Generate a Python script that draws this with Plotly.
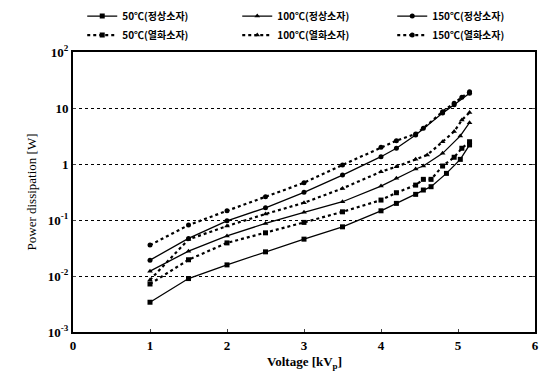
import plotly.graph_objects as go

# ---- data ----
v_n50 = [1, 1.5, 2, 2.5, 3, 3.5, 4, 4.2, 4.45, 4.55, 4.65, 4.85, 5.03, 5.15]
p_n50 = [0.0034, 0.009, 0.0158, 0.027, 0.0455, 0.0755, 0.146, 0.198, 0.287, 0.343, 0.393, 0.68, 1.21, 2.19]

v_n100 = [1, 1.5, 2, 2.5, 3, 3.5, 4, 4.2, 4.45, 4.55, 4.8, 5.03, 5.15]
p_n100 = [0.0122, 0.0278, 0.052, 0.087, 0.137, 0.212, 0.404, 0.555, 0.815, 0.92, 1.55, 3.17, 5.48]

v_n150 = [1, 1.5, 2, 2.5, 3, 3.5, 4, 4.2, 4.45, 4.8, 4.95, 5.15]
p_n150 = [0.0192, 0.0469, 0.0968, 0.165, 0.312, 0.635, 1.35, 1.91, 3.3, 8.1, 11.4, 18.4]

v_d50 = [1, 1.5, 2, 2.5, 3, 3.5, 4, 4.2, 4.45, 4.55, 4.65, 4.8, 4.95, 5.05, 5.15]
p_d50 = [0.0072, 0.0195, 0.039, 0.059, 0.0906, 0.14, 0.227, 0.307, 0.42, 0.532, 0.532, 0.92, 1.32, 1.91, 2.5]

v_d100 = [1, 1.5, 2, 2.5, 3, 3.5, 4, 4.2, 4.45, 4.6, 4.8, 4.95, 5.05, 5.15]
p_d100 = [0.0085, 0.045, 0.078, 0.128, 0.203, 0.367, 0.728, 0.895, 1.21, 1.45, 2.5, 3.8, 6.1, 8.3]

v_d150 = [1, 1.5, 2, 2.5, 3, 3.5, 4, 4.2, 4.45, 4.55, 4.8, 4.95, 5.05, 5.15]
p_d150 = [0.0356, 0.081, 0.146, 0.26, 0.462, 0.96, 1.99, 2.61, 3.44, 4.35, 8.6, 12.2, 15.6, 19.6]

names = ["50℃(정상소자)", "100℃(정상소자)", "150℃(정상소자)",
         "50℃(열화소자)", "100℃(열화소자)", "150℃(열화소자)"]

x_ticks = [0, 1, 2, 3, 4, 5, 6]
y_tickvals = [1e-3, 1e-2, 1e-1, 1, 10, 100]
y_ticktext = ["10<sup>-3</sup>", "10<sup>-2</sup>", "10<sup>-1</sup>", "1", "10", "10<sup>2</sup>"]
x_title = "Voltage [kV<sub>p</sub>]"
y_title = "Power dissipation [W]"

series = [
    (v_n50, p_n50, "square", "solid"),
    (v_n100, p_n100, "triangle-up", "solid"),
    (v_n150, p_n150, "circle", "solid"),
    (v_d50, p_d50, "square", "dot"),
    (v_d100, p_d100, "triangle-up", "dot"),
    (v_d150, p_d150, "circle", "dot"),
]

fig = go.Figure()
for (vx, py, sym, dash), nm in zip(series, names):
    fig.add_trace(go.Scatter(
        x=vx, y=py, name=nm, mode="lines+markers",
        line=dict(color="black", width=1.3 if dash == "solid" else 2.2, dash=dash),
        marker=dict(symbol=sym, size=5, color="black"),
    ))

serif = "Liberation Serif"
fig.update_layout(
    width=542, height=373,
    margin=dict(l=73, r=7, t=52, b=41, autoexpand=False),
    paper_bgcolor="white", plot_bgcolor="white",
    font=dict(family=serif, color="black", size=12),
    showlegend=True,
    legend=dict(
        orientation="h", x=0.02, y=1.18, xanchor="left", yanchor="top",
        entrywidth=110, entrywidthmode="pixels",
        font=dict(family="Noto Sans CJK KR", size=10, color="black", weight="bold"),
        itemwidth=30, tracegroupgap=0, bgcolor="rgba(0,0,0,0)",
    ),
    xaxis=dict(
        range=[0, 6], tickvals=x_ticks, ticks="inside", ticklen=3,
        showgrid=False, zeroline=False,
        showline=True, linecolor="black", linewidth=2, mirror=True,
        tickfont=dict(family=serif, size=13, weight="bold"),
    ),
    yaxis=dict(
        type="log", range=[-3, 2], tickvals=y_tickvals, ticktext=y_ticktext,
        ticks="inside", ticklen=3, mirror="ticks",
        showgrid=True, gridcolor="black", griddash="dot", gridwidth=1.2,
        zeroline=False, showline=True, linecolor="black", linewidth=2,
        tickfont=dict(family=serif, size=13, weight="bold"),
        title=dict(text=y_title, standoff=8,
                   font=dict(family=serif, size=13)),
    ),
    annotations=[dict(
        text=x_title, x=0.5, y=0, xref="paper", yref="paper",
        xanchor="center", yanchor="top", yshift=-20, showarrow=False,
        font=dict(family=serif, size=13, weight="bold"),
    )],
)

# remove the browser's default 8px body margin so the figure fills the window
fig.write_html("out.html", config={"displayModeBar": False},
               post_script="document.body.style.margin='0';")
